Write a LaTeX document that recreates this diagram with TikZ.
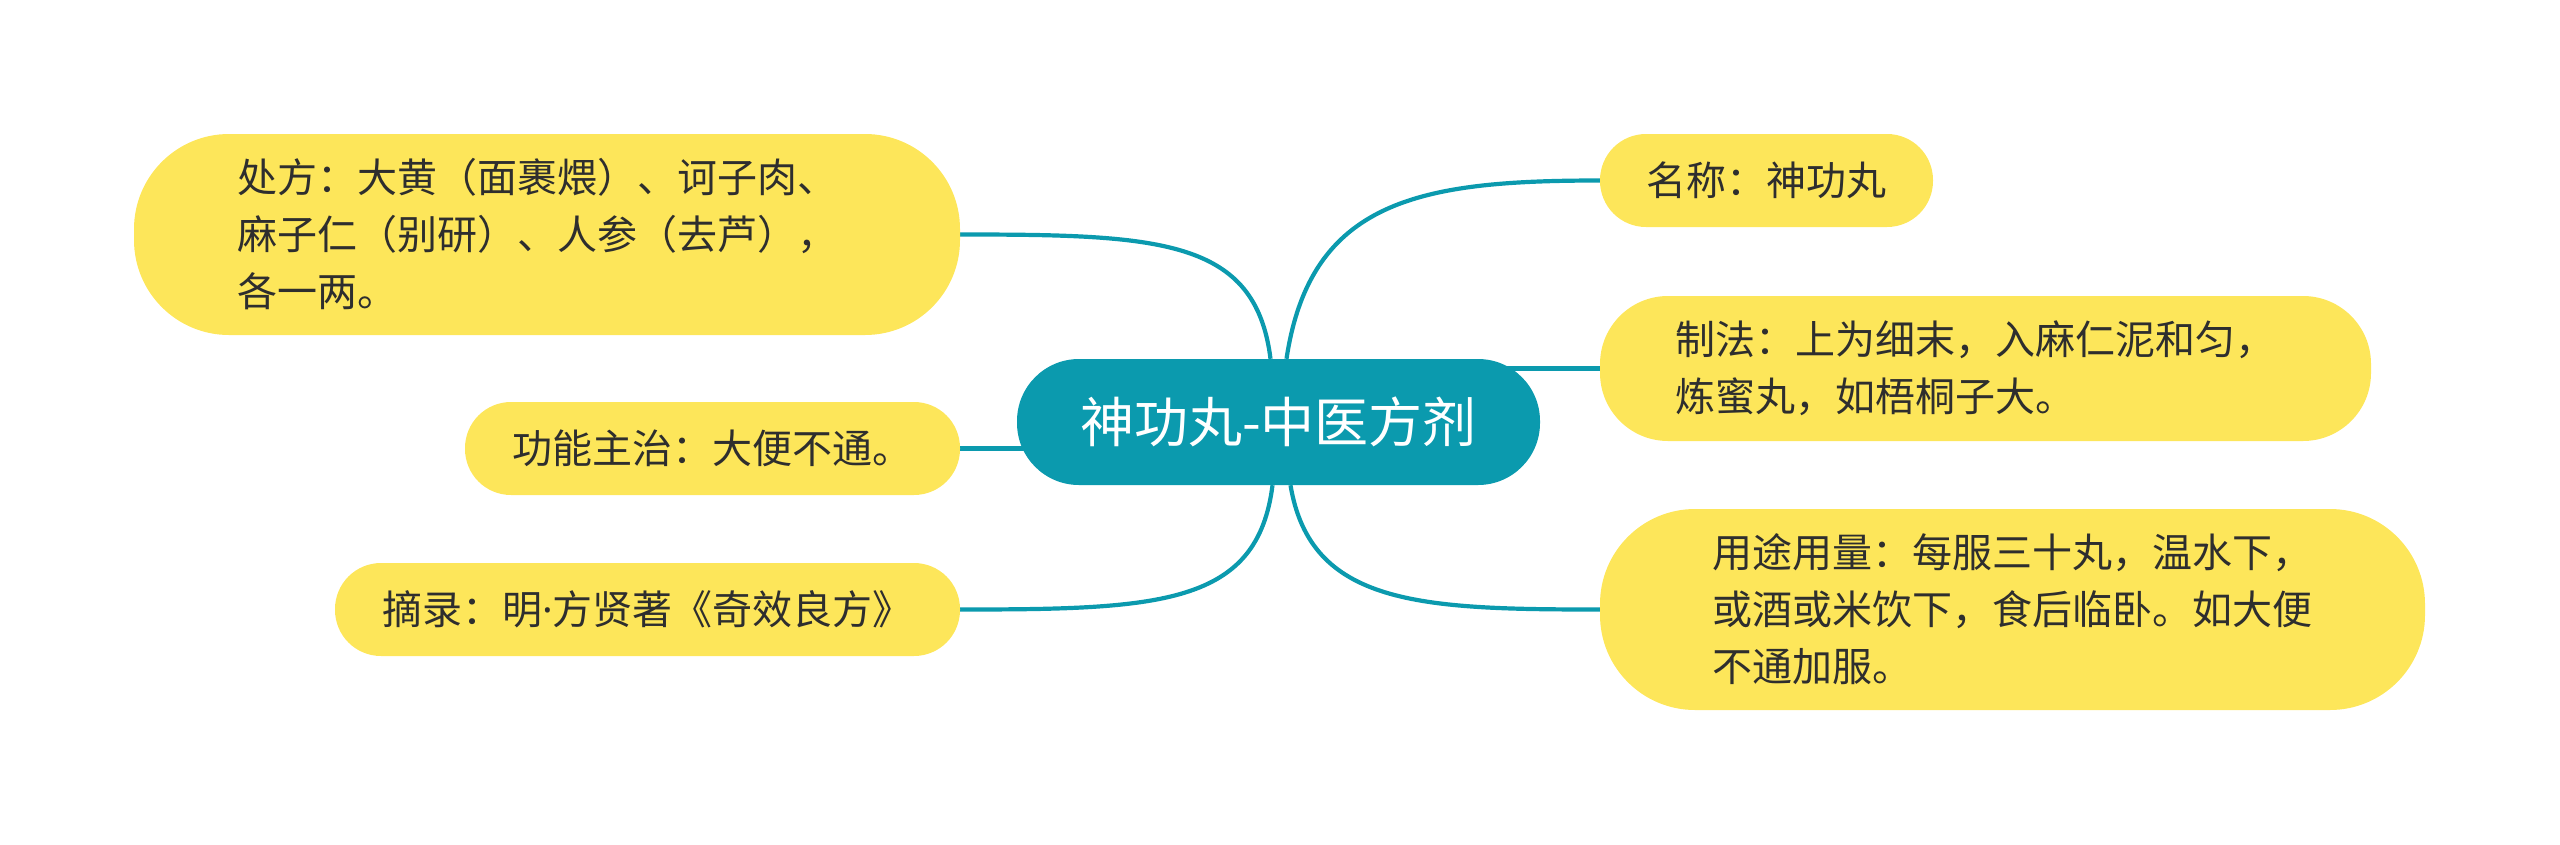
\documentclass[tikz,border=0pt]{standalone}
\usepackage{fontspec}
\newfontfamily\cjk{Noto Sans CJK SC}
\newfontfamily\lat{Noto Sans}
\usetikzlibrary{backgrounds}
\definecolor{teal1}{HTML}{0B9AAE}
\definecolor{leafy}{HTML}{FDE65A}
\definecolor{txt}{HTML}{2E2E2E}
\begin{document}
\begin{tikzpicture}[x=1pt,y=-1pt,
  leaf/.style={fill=leafy, text=txt, font=\cjk\fontsize{40}{57}\selectfont, align=left, inner sep=0pt},
  root/.style={fill=teal1, text=white, font=\cjk\fontsize{54}{60}\selectfont, inner sep=0pt, rounded corners=62pt},
  link/.style={draw=teal1, line width=4.2pt}]
\useasboundingbox (0,0) rectangle (2560,844);

\node[root, minimum width=523pt, minimum height=126pt] (c) at (1278.5,422) {神功丸-中医方剂};

\node[leaf, minimum width=333pt, minimum height=93pt, rounded corners=46pt] (name) at (1766.5,180.5) {名称：神功丸};
\node[leaf, minimum width=771pt, minimum height=145pt, rounded corners=68pt] (make) at (1985.5,368.5) {制法：上为细末，入麻仁泥和匀，\hspace*{20pt}\\炼蜜丸，如梧桐子大。};
\node[leaf, minimum width=825pt, minimum height=201pt, rounded corners=95pt] (usage) at (2012.5,609.5) {用途用量：每服三十丸，温水下，\\或酒或米饮下，食后临卧。如大便\hspace*{16pt}\\不通加服。};
\node[leaf, minimum width=826pt, minimum height=201pt, rounded corners=95pt] (recipe) at (547,234.5) {处方：大黄（面裹煨）、诃子肉、\hspace*{20pt}\\麻子仁（别研）、人参（去芦），\\各一两。};
\node[leaf, minimum width=495pt, minimum height=93pt, rounded corners=46pt] (func) at (712.5,448.5) {功能主治：大便不通。};
\node[leaf, minimum width=625pt, minimum height=93pt, rounded corners=46pt] (source) at (647.5,609.5) {摘录：明{\lat ·}方贤著《奇效良方》};

\begin{scope}[on background layer]
\draw[link] ([xshift=8pt]c.north) .. controls +(24,-159) and +(-180,0) .. (name.west);
\draw[link] ([xshift=-8pt]c.north) .. controls +(-15,-120) and +(200,0) .. (recipe.east);
\draw[link] (make.west) -- (make.west -| c.center);
\draw[link] (func.east) -- (func.east -| c.center);
\draw[link] ([xshift=-6pt]c.south) .. controls +(-15,120) and +(200,0) .. (source.east);
\draw[link] ([xshift=12pt]c.south) .. controls +(20,120) and +(-180,0) .. (usage.west);
\end{scope}
\end{tikzpicture}
\end{document}
